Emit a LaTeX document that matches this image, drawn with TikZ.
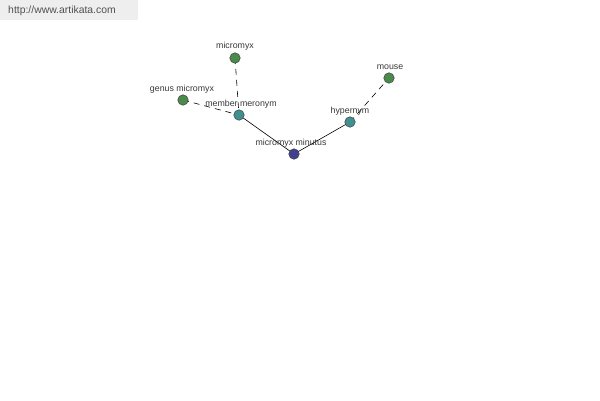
\documentclass[tikz,border=0pt]{standalone}
\usepackage{fontspec}
\setmainfont{Liberation Sans}
\begin{document}
\begin{tikzpicture}[x=1pt,y=-1pt,
  dot/.style={circle,draw=black!75,line width=0.5pt,minimum size=10.5pt,inner sep=0pt},
  gdot/.style={dot,fill={rgb,255:red,74;green,138;blue,74}},
  tdot/.style={dot,fill={rgb,255:red,64;green,144;blue,144}},
  bdot/.style={dot,fill={rgb,255:red,64;green,64;blue,144}},
  lab/.style={font=\fontsize{8.8}{10}\selectfont,text={rgb,255:red,55;green,55;blue,55},inner sep=0pt},
  rel/.style={line width=0.6pt,black},
  dashrel/.style={rel,dash pattern=on 6pt off 5pt}]
\useasboundingbox (0,0) rectangle (600,400);
\fill[fill={rgb,255:red,238;green,238;blue,238}] (0,0) rectangle (138,20);
\node[font=\fontsize{10.4}{12}\selectfont,text={rgb,255:red,80;green,80;blue,80},inner sep=0pt] (url) at (62,11) {http://www.artikata.com};
\coordinate (pmicromyx) at (235,58);
\coordinate (pgenus) at (183,100);
\coordinate (pmember) at (239,115);
\coordinate (pminutus) at (294,154);
\coordinate (phyper) at (350,122);
\coordinate (pmouse) at (389,78);
\draw[dashrel] (pmicromyx) -- (pmember);
\draw[dashrel] (pgenus) -- (pmember);
\draw[rel] (pmember) -- (pminutus);
\draw[rel] (pminutus) -- (phyper);
\draw[dashrel] (phyper) -- (pmouse);
\node[gdot] (micromyx) at (pmicromyx) {};
\node[gdot] (genus) at (pgenus) {};
\node[tdot] (member) at (pmember) {};
\node[bdot] (minutus) at (pminutus) {};
\node[tdot] (hyper) at (phyper) {};
\node[gdot] (mouse) at (pmouse) {};
\node[lab] (lmicromyx) at (235,46) {micromyx};
\node[lab] (lgenus) at (182,89) {genus micromyx};
\node[lab] (lmember) at (241,104) {member meronym};
\node[lab] (lminutus) at (291,143) {micromyx minutus};
\node[lab] (lhyper) at (350,111) {hypernym};
\node[lab] (lmouse) at (390,67) {mouse};
\end{tikzpicture}
\end{document}
